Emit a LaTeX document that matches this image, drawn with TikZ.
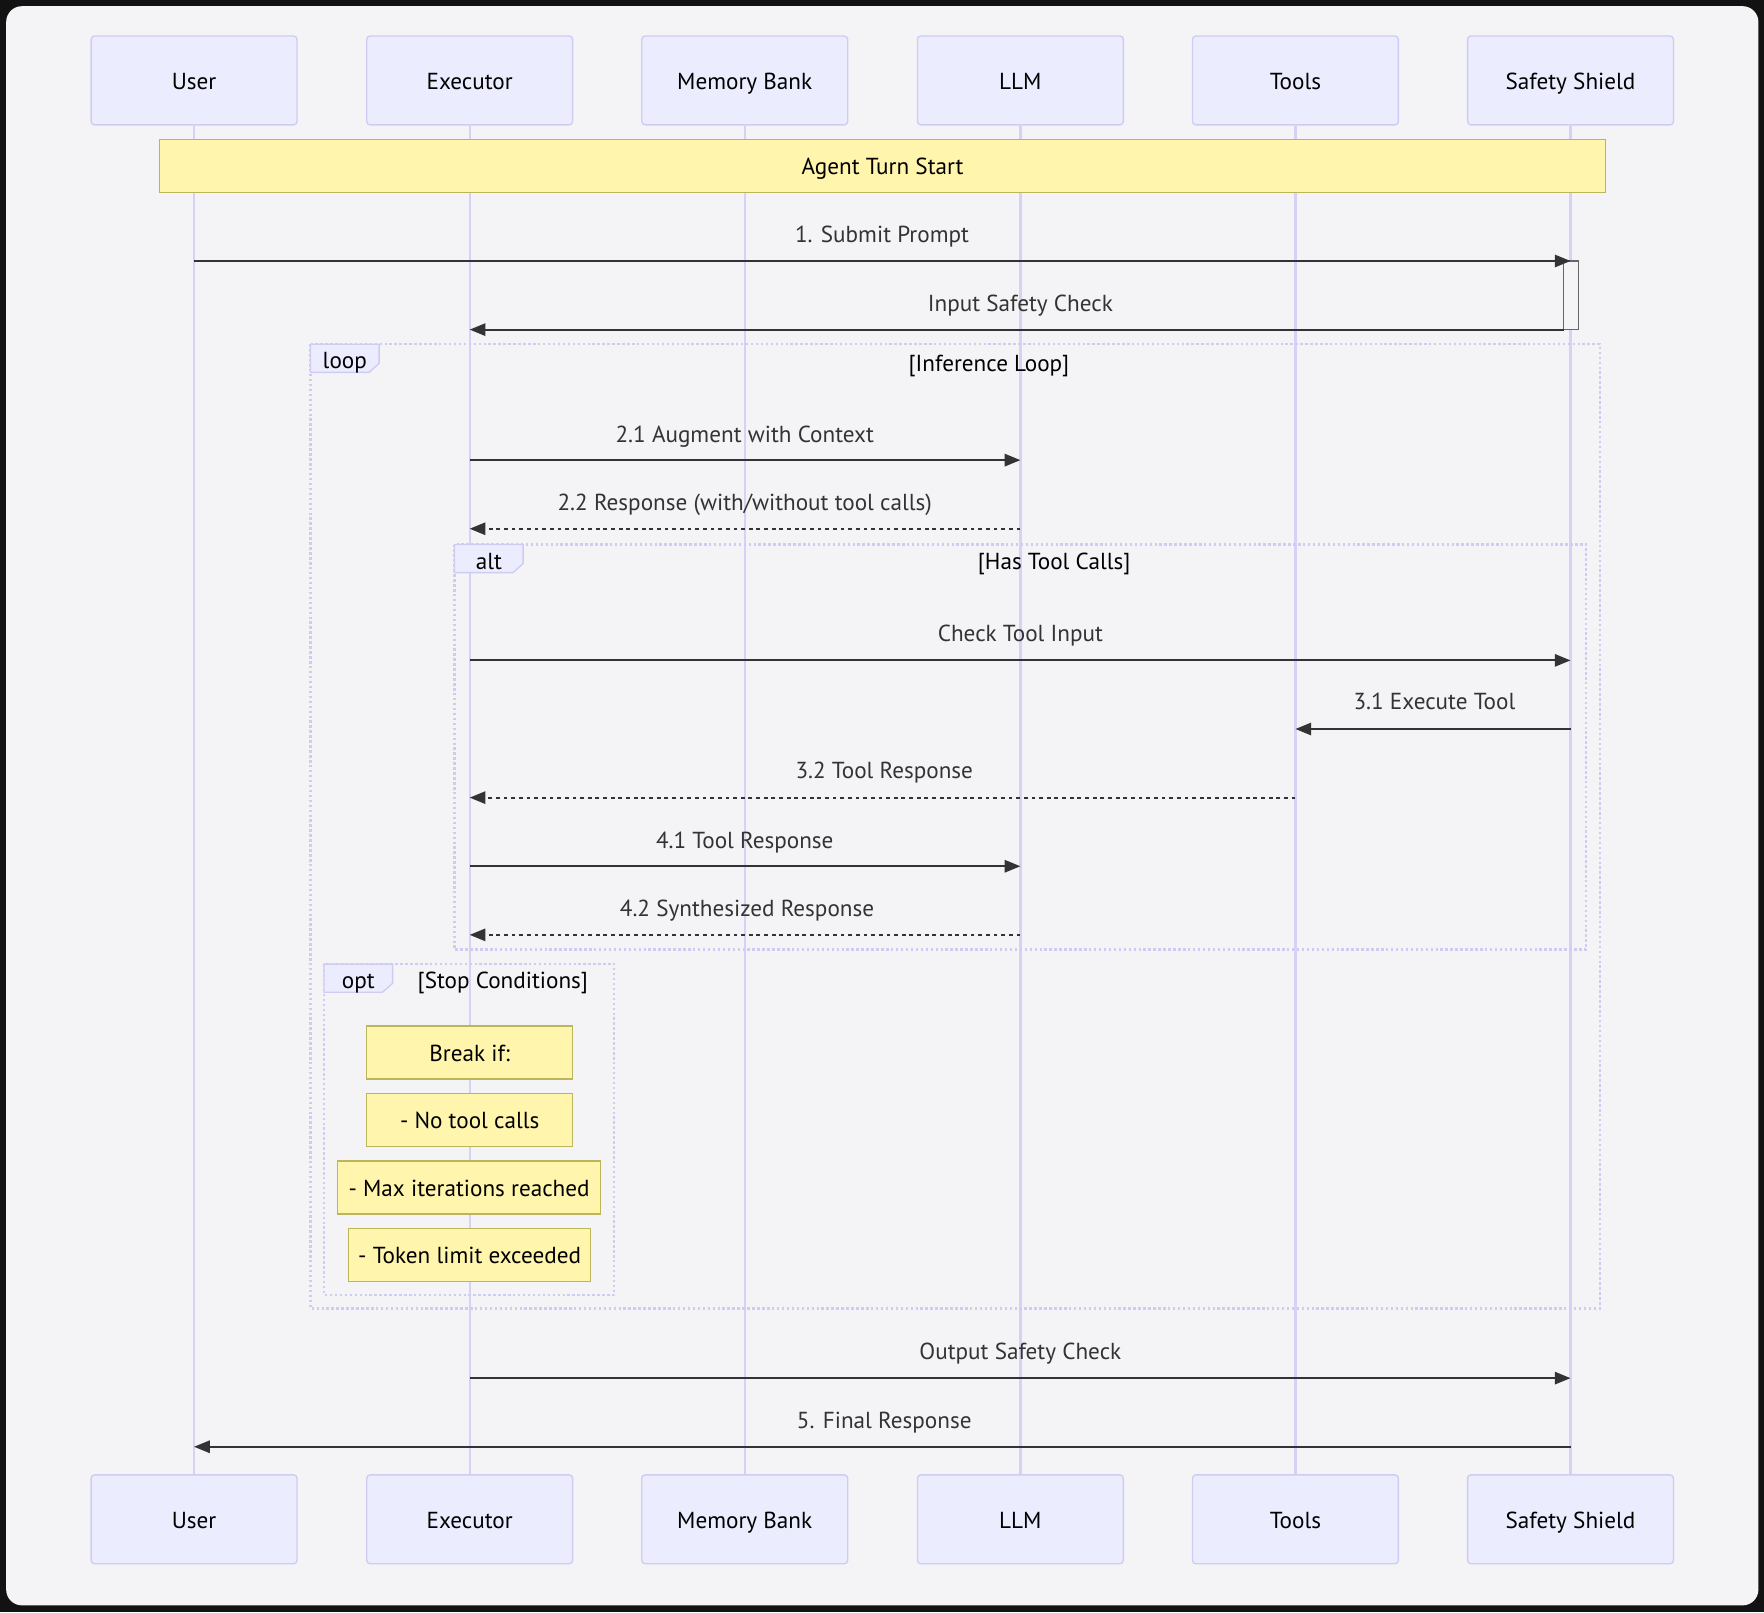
\documentclass[tikz,border=0pt]{standalone}
\usepackage{fontspec}
\setmainfont{PT Sans}
\usetikzlibrary{arrows.meta}
\definecolor{bgdark}{HTML}{121212}
\definecolor{panel}{HTML}{F4F4F6}
\definecolor{actfill}{HTML}{ECECFF}
\definecolor{actline}{HTML}{CFCBF3}
\definecolor{lifecol}{HTML}{D6D1F5}
\definecolor{notefill}{HTML}{FFF5AD}
\definecolor{noteline}{HTML}{B9B65C}
\definecolor{msgcol}{HTML}{333333}
\definecolor{framecol}{HTML}{CFCBF3}
\definecolor{actvline}{HTML}{666666}
\tikzset{
  txt/.style={font=\fontsize{10.3}{12}\selectfont, text height=8.8pt, text depth=0.8pt},
  actorbox/.style={txt, draw=actline, fill=actfill, line width=0.6pt, rounded corners=1.5pt,
    minimum width=91.5pt, minimum height=39.5pt, inner sep=0pt, text=black},
  lifeline/.style={draw=lifecol, line width=1pt},
  notebox/.style={txt, draw=noteline, fill=notefill, line width=0.6pt, inner sep=0pt,
    minimum height=23.5pt, text=black},
  msg/.style={draw=msgcol, line width=0.85pt, -{Triangle[length=7pt,width=5.5pt]}},
  dmsg/.style={msg, dash pattern=on 1.7pt off 1.7pt},
  msglabel/.style={txt, text=msgcol, inner sep=0pt},
  framebox/.style={draw=framecol, line width=1pt, dash pattern=on 1.1pt off 1.1pt},
  tabshape/.style={draw=framecol, fill=actfill, line width=0.6pt},
  tablabel/.style={txt, text=black, inner sep=0pt},
  frametitle/.style={txt, text=black, inner sep=0pt},
}
\begin{document}
\begin{tikzpicture}[x=0.5pt,y=-0.5pt]
\useasboundingbox (0,0) rectangle (1568,1433);
\fill[bgdark] (0,0) rectangle (1568,1433);
\fill[panel, rounded corners=7pt] (5.5,5.5) rectangle (1563,1427);

% actor x positions
\def\xU{172.5}\def\xE{417.5}\def\xM{662}\def\xL{907}\def\xT{1151.5}\def\xS{1396}
% top actors
\node[actorbox] (uT) at (\xU,71.5) {User};
\node[actorbox] (eT) at (\xE,71.5) {Executor};
\node[actorbox] (mT) at (\xM,71.5) {Memory Bank};
\node[actorbox] (lT) at (\xL,71.5) {LLM};
\node[actorbox] (tT) at (\xT,71.5) {Tools};
\node[actorbox] (sT) at (\xS,71.5) {Safety Shield};
% bottom actors
\node[actorbox] (uB) at (\xU,1350.5) {User};
\node[actorbox] (eB) at (\xE,1350.5) {Executor};
\node[actorbox] (mB) at (\xM,1350.5) {Memory Bank};
\node[actorbox] (lB) at (\xL,1350.5) {LLM};
\node[actorbox] (tB) at (\xT,1350.5) {Tools};
\node[actorbox] (sB) at (\xS,1350.5) {Safety Shield};
% lifelines
\foreach \a in {u,e,m,l,t,s} \draw[lifeline] (\a T.south) -- (\a B.north);

% Agent Turn Start note
\node[notebox, minimum width=642.5pt, minimum height=23.5pt] (start) at (784.5,147.5) {Agent Turn Start};

% activation on Safety Shield
\node[draw=actvline, fill=panel, line width=0.6pt, minimum width=6.5pt, minimum height=30.5pt, inner sep=0pt] (act) at (1396.5,262.5) {};

% frames
\draw[framebox] (276,306) rectangle (1422,1163);
\draw[tabshape] (276,306) -- (337,306) -- (337,323) -- (328,331) -- (276,331) -- cycle;
\node[tablabel] (loopT) at (306.5,320) {loop};
\node[frametitle] (loopN) at (879,322) {[Inference Loop]};

\draw[framebox] (404,484) rectangle (1410,844);
\draw[tabshape] (404,484) -- (465,484) -- (465,501) -- (456,509) -- (404,509) -- cycle;
\node[tablabel] (altT) at (434.5,498) {alt};
\node[frametitle] (altN) at (937,498) {[Has Tool Calls]};

\draw[framebox] (288,857) rectangle (546,1151);
\draw[tabshape] (288,857) -- (349,857) -- (349,874) -- (340,882) -- (288,882) -- cycle;
\node[tablabel] (optT) at (318.5,871) {opt};
\node[frametitle] (optN) at (447,871) {[Stop Conditions]};

% stop-condition notes
\node[notebox, minimum width=91.5pt] (n1) at (417.5,935.5) {Break if:};
\node[notebox, minimum width=91.5pt] (n2) at (417.5,995.5) {- No tool calls};
\node[notebox, minimum width=117pt] (n3) at (417,1055.5) {- Max iterations reached};
\node[notebox, minimum width=107.5pt] (n4) at (417.5,1115.5) {- Token limit exceeded};

% message endpoints
\coordinate (a1) at (\xU,232);   \coordinate (b1) at (\xS,232);
\coordinate (a2) at (1390,293);  \coordinate (b2) at (\xE,293);
\coordinate (a3) at (\xE,409);   \coordinate (b3) at (\xL,409);
\coordinate (a4) at (\xL,470);   \coordinate (b4) at (\xE,470);
\coordinate (a5) at (\xE,587);   \coordinate (b5) at (\xS,587);
\coordinate (a6) at (\xS,648);   \coordinate (b6) at (\xT,648);
\coordinate (a7) at (\xT,709);   \coordinate (b7) at (\xE,709);
\coordinate (a8) at (\xE,770);   \coordinate (b8) at (\xL,770);
\coordinate (a9) at (\xL,831);   \coordinate (b9) at (\xE,831);
\coordinate (a10) at (\xE,1225); \coordinate (b10) at (\xS,1225);
\coordinate (a11) at (\xS,1286); \coordinate (b11) at (\xU,1286);

\draw[msg] (a1) -- (b1);
\draw[msg] (a2) -- (b2);
\draw[msg] (a3) -- (b3);
\draw[dmsg] (a4) -- (b4);
\draw[msg] (a5) -- (b5);
\draw[msg] (a6) -- (b6);
\draw[dmsg] (a7) -- (b7);
\draw[msg] (a8) -- (b8);
\draw[dmsg] (a9) -- (b9);
\draw[msg] (a10) -- (b10);
\draw[msg] (a11) -- (b11);

% labels
\node[msglabel] (l1) at (784,208) {1. Submit Prompt};
\node[msglabel] (l2) at (907,269) {Input Safety Check};
\node[msglabel] (l3) at (662,385) {2.1 Augment with Context};
\node[msglabel] (l4) at (662,446) {2.2 Response (with/without tool calls)};
\node[msglabel] (l5) at (907,562) {Check Tool Input};
\node[msglabel] (l6) at (1275,623) {3.1 Execute Tool};
\node[msglabel] (l7) at (786,684) {3.2 Tool Response};
\node[msglabel] (l8) at (662,746) {4.1 Tool Response};
\node[msglabel] (l9) at (664,807) {4.2 Synthesized Response};
\node[msglabel] (l10) at (907,1200) {Output Safety Check};
\node[msglabel] (l11) at (786,1262) {5. Final Response};
\end{tikzpicture}
\end{document}
